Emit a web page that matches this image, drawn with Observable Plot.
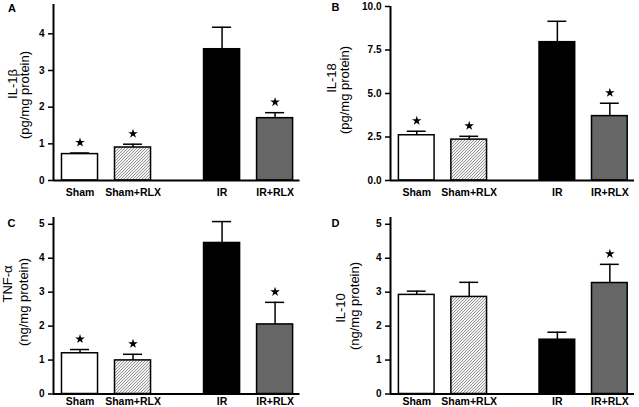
<!DOCTYPE html>
<html><head><meta charset="utf-8">
<script src="https://cdn.jsdelivr.net/npm/d3@7"></script>
<script src="https://cdn.jsdelivr.net/npm/@observablehq/plot@0.6"></script>
<style>
body{margin:0;background:#fff;}
#root{position:relative;width:639px;height:407px;overflow:hidden;background:#fff;font-family:Arial,"Liberation Sans",sans-serif;color:#000;}
.panel{position:absolute;}
.ylab{position:absolute;white-space:nowrap;font-size:13px;line-height:13px;transform:translate(-50%,-50%) rotate(-90deg);}
.letter{position:absolute;font-size:11px;font-weight:bold;line-height:11px;transform:translate(-50%,-50%);}
</style></head><body><div id="root"></div>
<script>
// categories and positions along the x axis (gap between the Sham and IR groups)
const groups = ["Sham", "Sham+RLX", "IR", "IR+RLX"];
const groupPos = [1, 2, 3.68, 4.68];

// Panel A: IL-1β
const il1bMean  = [0.72, 0.90, 3.58, 1.70];
const il1bUpper = [0.75, 0.99, 4.18, 1.85];
const il1bStar  = [true, true, false, true];

// Panel B: IL-18
const il18Mean  = [2.60, 2.35, 7.95, 3.70];
const il18Upper = [2.83, 2.54, 9.15, 4.44];
const il18Star  = [true, true, false, true];

// Panel C: TNF-α
const tnfMean  = [1.20, 0.99, 4.45, 2.05];
const tnfUpper = [1.31, 1.17, 5.08, 2.70];
const tnfStar  = [true, true, false, true];

// Panel D: IL-10
const il10Mean  = [2.92, 2.86, 1.60, 3.27];
const il10Upper = [3.03, 3.29, 1.82, 3.82];
const il10Star  = [false, false, false, true];

// tick labels
const ticksA = [0, 1, 2, 3, 4];
const ticksB = [0, 2.5, 5, 7.5, 10];
const ticksC = [0, 1, 2, 3, 4, 5];
const ticksD = [0, 1, 2, 3, 4, 5];

const root = document.getElementById("root");

function addText(cls, txt, x, y) {
  const el = document.createElement("div");
  el.className = cls;
  el.textContent = txt;
  el.style.left = x + "px";
  el.style.top = y + "px";
  root.appendChild(el);
}

function panel(cfg) {
  const hatchId = "hatch-" + cfg.letter;
  const fills = ["white", `url(#${hatchId})`, "black", "#666666"];
  const data = groups.map((g, i) => ({
    group: g, pos: groupPos[i], mean: cfg.mean[i], upper: cfg.upper[i],
    star: cfg.star[i], fill: fills[i]
  }));
  const xDomain = [0.5, 5.15];
  const svg = Plot.plot({
    width: cfg.width, height: cfg.height,
    marginLeft: cfg.ml, marginRight: cfg.mr, marginTop: cfg.mt, marginBottom: cfg.mb,
    style: {fontFamily: "Arial, 'Liberation Sans', sans-serif", fontSize: "10px", fontWeight: "bold", background: "white", color: "black", overflow: "visible"},
    x: {type: "linear", domain: xDomain},
    y: {type: "linear", domain: cfg.yDomain},
    color: {type: "identity"},
    marks: [
      Plot.ruleX(data, {x: "pos", y1: "mean", y2: "upper", stroke: "black", strokeWidth: 1.5}),
      Plot.ruleY(data, {y: "upper", x1: d => d.pos - 0.18, x2: d => d.pos + 0.18, stroke: "black", strokeWidth: 1.5}),
      Plot.rect(data, {x1: d => d.pos - 0.34, x2: d => d.pos + 0.34, y1: 0, y2: "mean", fill: "fill", stroke: "black", strokeWidth: 1.5}),
      Plot.dot(data.filter(d => d.star), {x: "pos", y: "upper", symbol: "star", r: 3, fill: "black", stroke: "none", dy: -10.5}),
      Plot.axisY({ticks: cfg.ticks, tickFormat: cfg.tickFormat, tickSize: 5, tickPadding: 4, strokeWidth: 1.5, fontSize: 10, fontWeight: "bold", label: null}),
      Plot.axisX({ticks: groupPos, tickFormat: d => groups[groupPos.indexOf(d)], tickSize: 0, tickPadding: cfg.xpad, fontSize: 10.5, fontWeight: "bold", label: null}),
      Plot.ruleY([0], {stroke: "black", strokeWidth: 2}),
      Plot.ruleX([xDomain[0]], {stroke: "black", strokeWidth: 2})
    ]
  });
  const defs = d3.select(svg).insert("defs", ":first-child");
  const pat = defs.append("pattern").attr("id", hatchId)
    .attr("patternUnits", "userSpaceOnUse").attr("width", 3).attr("height", 3);
  pat.append("rect").attr("width", 3).attr("height", 3).attr("fill", "#f2f2f2");
  pat.append("path").attr("d", "M-1,1 L1,-1 M0,3 L3,0 M2,4 L4,2")
    .attr("stroke", "#8a8a8a").attr("stroke-width", 0.9);
  const wrap = document.createElement("div");
  wrap.className = "panel";
  wrap.style.left = cfg.left + "px";
  wrap.style.top = cfg.top + "px";
  wrap.appendChild(svg);
  root.appendChild(wrap);
  addText("ylab", cfg.label1, cfg.l1[0], cfg.l1[1]);
  addText("ylab", cfg.label2, cfg.l2[0], cfg.l2[1]);
  addText("letter", cfg.letter, cfg.lp[0], cfg.lp[1]);
}

panel({letter: "A", mean: il1bMean, upper: il1bUpper, star: il1bStar,
  yDomain: [0, 4.8], ticks: ticksA, tickFormat: d3.format("d"),
  label1: "IL-1β", label2: "(pg/mg protein)",
  left: 0, top: 0, width: 320, height: 203, ml: 53, mr: 20.5, mt: 4, mb: 23, xpad: 8,
  l1: [12, 84], l2: [24, 95], lp: [12, 8]});

panel({letter: "B", mean: il18Mean, upper: il18Upper, star: il18Star,
  yDomain: [0, 10], ticks: ticksB, tickFormat: d3.format(".1f"),
  label1: "IL-18", label2: "(pg/mg protein)",
  left: 320, top: 0, width: 319, height: 203, ml: 70, mr: 5, mt: 6, mb: 23, xpad: 8,
  l1: [331, 78], l2: [344, 90], lp: [335.5, 7]});

panel({letter: "C", mean: tnfMean, upper: tnfUpper, star: tnfStar,
  yDomain: [0, 5.2], ticks: ticksC, tickFormat: d3.format("d"),
  label1: "TNF-α", label2: "(ng/mg protein)",
  left: 0, top: 203, width: 320, height: 204, ml: 53, mr: 20.5, mt: 14, mb: 13.5, xpad: 4,
  l1: [7, 284], l2: [23, 302], lp: [11.5, 223]});

panel({letter: "D", mean: il10Mean, upper: il10Upper, star: il10Star,
  yDomain: [0, 5.2], ticks: ticksD, tickFormat: d3.format("d"),
  label1: "IL-10", label2: "(ng/mg protein)",
  left: 320, top: 203, width: 319, height: 204, ml: 70, mr: 5, mt: 14, mb: 13.5, xpad: 4,
  l1: [339.5, 308], l2: [354, 306], lp: [335.5, 223]});
</script>
</body></html>
